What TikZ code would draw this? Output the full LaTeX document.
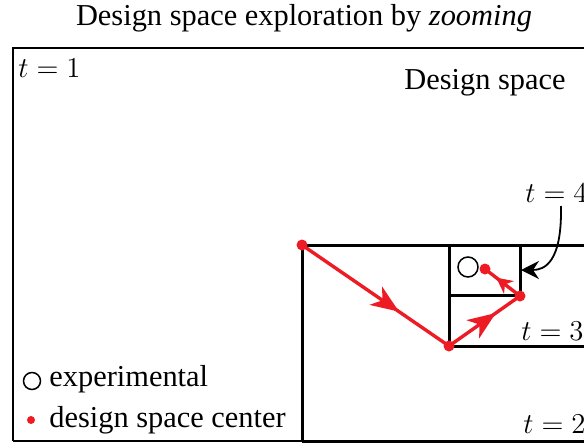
\documentclass[tikz,border=0pt]{standalone}
\usepackage[no-math]{fontspec}
\setmainfont{Liberation Serif}
\usetikzlibrary{arrows.meta,decorations.markings}
\definecolor{dred}{RGB}{237,28,36}
\tikzset{
  box/.style={draw=black,line width=1.5pt},
  outer/.style={draw=black,line width=0.8pt},
  redline/.style={draw=dred,line width=1.7pt},
  path/.style={redline,
    postaction={decorate,decoration={markings,mark=at position 0.66 with {\arrow[dred]{Stealth[length=14pt,width=11pt,inset=4pt]}}}}},
  shortpath/.style={redline,
    postaction={decorate,decoration={markings,mark=at position 0.68 with {\arrow[dred]{Stealth[length=8pt,width=8pt,inset=2.5pt]}}}}},
  cen/.style={circle,fill=dred,inner sep=0pt,minimum size=5.5pt},
  lbl/.style={inner sep=0pt,font=\fontsize{15.2}{18}\selectfont},
}
\begin{document}
\begin{tikzpicture}[x=0.5pt,y=-0.5pt]
\useasboundingbox (0,0) rectangle (584,445);
\clip (0,0) rectangle (584,445);
\node[lbl] (title) at (304,18) {Design space exploration by \textit{zooming}};
% boxes
\draw[outer] (13,441) -- (13,48) -- (600,48);
\draw[box] (302,441) -- (302,245) -- (600,245);
\draw[box] (449,245) -- (449,346) -- (600,346);
\draw[box] (449,295) -- (520,295) -- (520,245);
\draw[box] (302,441) -- (600,441);
\draw[outer] (13,441) -- (302,441);
% labels
\node[lbl,anchor=west] (t1) at (18,68) {$t=1$};
\node[lbl] (ds) at (485,83) {Design space};
\node[lbl,anchor=west] (t4) at (525,193) {$t=4$};
\node[lbl,anchor=west] (t3) at (521,331) {$t=3$};
\node[lbl,anchor=west] (t2) at (523,424) {$t=2$};
% centers
\coordinate (c1) at (302,245);
\coordinate (c2) at (449,346);
\coordinate (c3) at (520,296);
\coordinate (c4) at (485,269);
\draw[path] (c1) -- (c2);
\draw[path] (c2) -- (c3);
\draw[shortpath] (c3) -- (c4);
\foreach \c in {c1,c2,c3,c4} \node[cen] at (\c) {};
\node[draw,circle,line width=0.75pt,minimum size=10pt,inner sep=0pt] (exp) at (468,267) {};
% black pointer
\coordinate (ps) at (561,206);
\coordinate (pe) at (521,270);
\draw[line width=0.9pt,-{Stealth[length=9pt,width=9pt,inset=3pt]}] (ps) .. controls (562,262) and (545,270) .. (pe);
% legend
\node[draw,circle,line width=0.75pt,minimum size=8.5pt,inner sep=0pt] (lc) at (32,381) {};
\node[lbl,anchor=west] (le) at (49,379) {experimental};
\node[cen,minimum size=4pt] (ld) at (31,420) {};
\node[lbl,anchor=west] (lds) at (49,420) {design space center};
\end{tikzpicture}
\end{document}
